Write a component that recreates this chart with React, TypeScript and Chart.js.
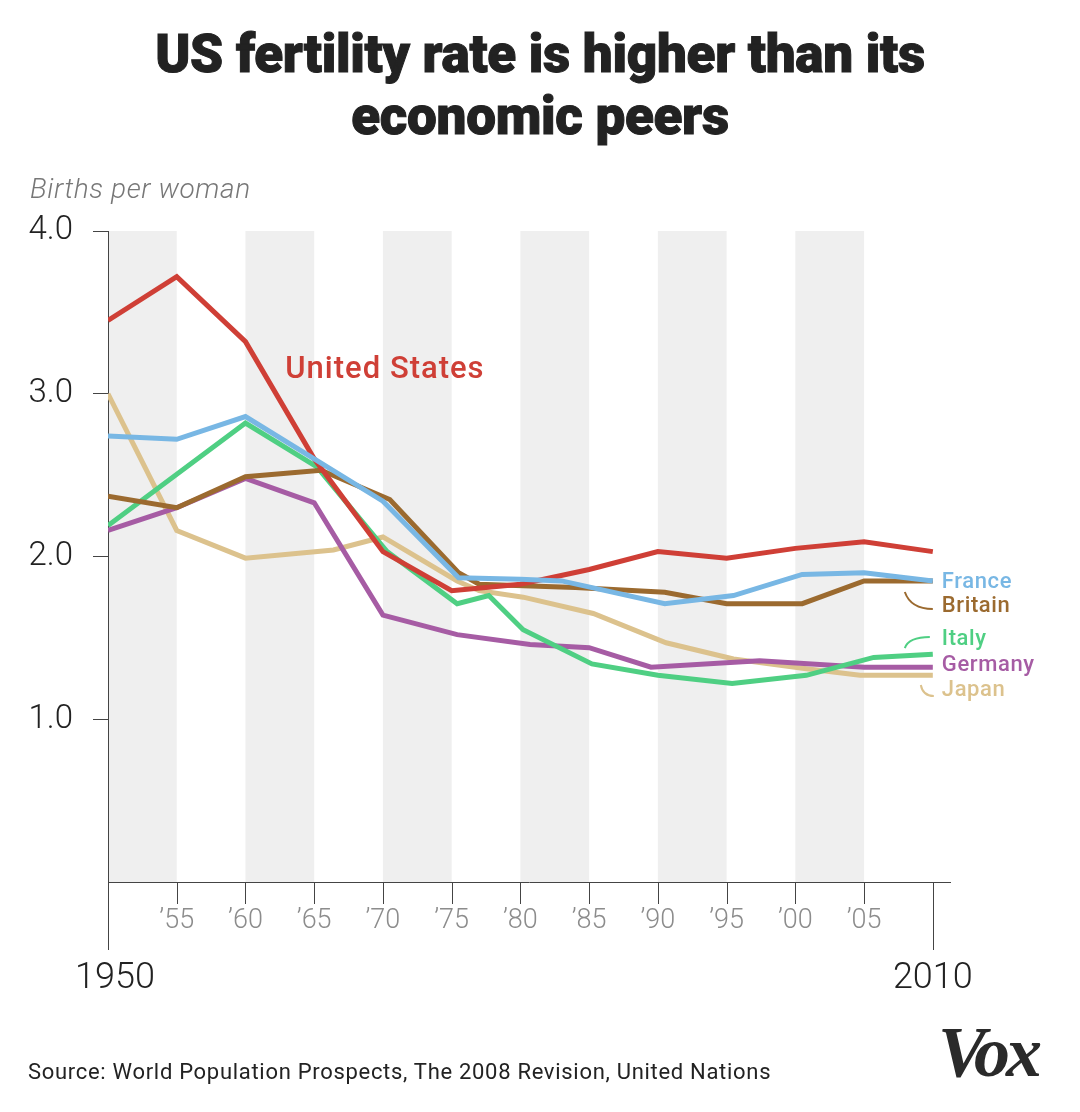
import { useEffect, useRef } from "react";
import { Chart, registerables } from "chart.js";

Chart.register(...registerables);

// ---------- data ----------
const TITLE_LINES = ["US fertility rate is higher than its", "economic peers"];
const Y_TITLE = "Births per woman";
const SOURCE = "Source: World Population Prospects, The 2008 Revision, United Nations";

const X_MIN = 1950;
const X_END = 2010;
const BAND_STARTS = [1950, 1960, 1970, 1980, 1990, 2000];
const BAND_WIDTH = 5;
const MINOR_TICKS = [1955, 1960, 1965, 1970, 1975, 1980, 1985, 1990, 1995, 2000, 2005];
const MINOR_LABELS = ["’55", "’60", "’65", "’70", "’75", "’80", "’85", "’90", "’95", "’00", "’05"];
const MAJOR_TICKS = [1950, 2010];
const MAJOR_LABELS = ["1950", "2010"];
const Y_TICKS = [1, 2, 3, 4];

const usYears = [1950, 1955, 1960, 1965, 1970, 1975, 1980, 1985, 1990, 1995, 2000, 2005, 2010];
const usValues = [3.45, 3.72, 3.32, 2.6, 2.03, 1.79, 1.83, 1.92, 2.03, 1.99, 2.05, 2.09, 2.03];

const franceYears = [1950, 1955, 1960, 1965, 1970, 1975.5, 1980, 1983, 1990.5, 1995.5, 2000.5, 2005, 2010];
const franceValues = [2.74, 2.72, 2.86, 2.6, 2.34, 1.87, 1.86, 1.85, 1.71, 1.76, 1.89, 1.9, 1.85];

const britainYears = [1950, 1955, 1960, 1965.5, 1970.5, 1975.5, 1977, 1984, 1990.5, 1995, 2000.5, 2005, 2010];
const britainValues = [2.37, 2.3, 2.49, 2.53, 2.35, 1.9, 1.83, 1.81, 1.78, 1.71, 1.71, 1.85, 1.85];

const italyYears = [1950, 1960, 1965.2, 1970.3, 1975.4, 1977.7, 1980.2, 1985.2, 1990, 1995.4, 2000.8, 2005.7, 2010];
const italyValues = [2.19, 2.82, 2.55, 2.03, 1.71, 1.76, 1.55, 1.34, 1.27, 1.22, 1.27, 1.38, 1.4];

const germanyYears = [1950, 1955, 1960, 1965, 1970, 1975.4, 1980.7, 1985, 1989.5, 1997.4, 2005, 2010];
const germanyValues = [2.16, 2.3, 2.48, 2.33, 1.64, 1.52, 1.46, 1.44, 1.32, 1.36, 1.32, 1.32];

const japanYears = [1950, 1955, 1960, 1966.4, 1970, 1975.4, 1977, 1980.2, 1985.3, 1990.6, 1995.5, 2000.8, 2004.7, 2010];
const japanValues = [3.0, 2.16, 1.99, 2.04, 2.12, 1.85, 1.79, 1.75, 1.65, 1.47, 1.37, 1.31, 1.27, 1.27];

const SERIES_NAMES = ["France", "United States", "Britain", "Italy", "Germany", "Japan"];
const SERIES_YEARS = [franceYears, usYears, britainYears, italyYears, germanyYears, japanYears];
const SERIES_VALUES = [franceValues, usValues, britainValues, italyValues, germanyValues, japanValues];
const SERIES_COLORS = ["#78b7e4", "#cf3f36", "#9b6a2f", "#4fcf83", "#a65ca4", "#dcc28d"];

// end labels (value at which each label is centred)
const END_LABELS = ["France", "Britain", "Italy", "Germany", "Japan"];
const END_LABEL_VALUES = [1.846, 1.696, 1.499, 1.336, 1.183];
const US_LABEL = "United States";
const US_LABEL_AT = { year: 1962.9, value: 3.146 };

const colorOf = (name: string) => SERIES_COLORS[SERIES_NAMES.indexOf(name)];

const overlayPlugin = {
  id: "overlay",
  beforeDraw(chart: any) {
    const { ctx, chartArea, scales } = chart;
    const x = scales.x;
    ctx.save();
    ctx.fillStyle = "#efefef";
    BAND_STARTS.forEach((s) => {
      const x0 = x.getPixelForValue(s);
      const x1 = x.getPixelForValue(s + BAND_WIDTH);
      ctx.fillRect(x0, chartArea.top, x1 - x0, chartArea.bottom - chartArea.top);
    });
    ctx.restore();
  },
  afterDraw(chart: any) {
    const { ctx, chartArea, scales } = chart;
    const x = scales.x;
    const y = scales.y;
    const bottom = chartArea.bottom;
    ctx.save();
    // x ticks
    ctx.strokeStyle = "#444";
    ctx.lineWidth = 1;
    MINOR_TICKS.forEach((t) => {
      const px = Math.round(x.getPixelForValue(t)) + 0.5;
      ctx.beginPath();
      ctx.moveTo(px, bottom);
      ctx.lineTo(px, bottom + 22);
      ctx.stroke();
    });
    MAJOR_TICKS.forEach((t) => {
      const px = Math.round(x.getPixelForValue(t)) + 0.5;
      ctx.beginPath();
      ctx.moveTo(px, bottom);
      ctx.lineTo(px, bottom + 68);
      ctx.stroke();
    });
    ctx.textAlign = "center";
    ctx.textBaseline = "middle";
    ctx.fillStyle = "#8c8c8c";
    ctx.font = "300 27px Roboto";
    MINOR_TICKS.forEach((t, i) => {
      ctx.fillText(MINOR_LABELS[i], x.getPixelForValue(t), bottom + 39);
    });
    ctx.fillStyle = "#222";
    ctx.font = "300 36px Roboto";
    MAJOR_TICKS.forEach((t, i) => {
      ctx.fillText(MAJOR_LABELS[i], x.getPixelForValue(t) + (i === 0 ? 7 : 0), bottom + 97);
    });

    // end labels
    const lx = x.getPixelForValue(X_END) + 9;
    ctx.textAlign = "left";
    ctx.font = "500 22px Roboto";
    (ctx as any).letterSpacing = "0.6px";
    END_LABELS.forEach((name, i) => {
      ctx.fillStyle = colorOf(name);
      ctx.fillText(name, lx, y.getPixelForValue(END_LABEL_VALUES[i]) + 1);
    });
    (ctx as any).letterSpacing = "0px";

    // leader curves
    ctx.lineWidth = 2;
    const curve = (name: string, pts: number[]) => {
      const cy = y.getPixelForValue(END_LABEL_VALUES[END_LABELS.indexOf(name)]);
      ctx.strokeStyle = colorOf(name);
      ctx.beginPath();
      ctx.moveTo(lx + pts[0], cy + pts[1]);
      ctx.quadraticCurveTo(lx + pts[2], cy + pts[3], lx + pts[4], cy + pts[5]);
      ctx.stroke();
    };
    curve("Britain", [-37, -14, -31, 3, -9, 3]);
    curve("Italy", [-37, 10, -33, -1, -12, -1]);
    curve("Japan", [-21, -4.5, -19, 6.5, -8, 6.5]);

    // United States label
    ctx.fillStyle = colorOf("United States");
    ctx.font = "500 31px Roboto";
    (ctx as any).letterSpacing = "1px";
    ctx.textAlign = "left";
    ctx.fillText(US_LABEL, x.getPixelForValue(US_LABEL_AT.year), y.getPixelForValue(US_LABEL_AT.value));
    (ctx as any).letterSpacing = "0px";
    ctx.restore();
  },
};

export default function App() {
  const ref = useRef<HTMLCanvasElement>(null);
  useEffect(() => {
    document.body.style.margin = "0";
    const datasets = SERIES_NAMES.map((name, i) => ({
      label: name,
      data: SERIES_YEARS[i].map((yr, j) => ({ x: yr, y: SERIES_VALUES[i][j] })),
      borderColor: SERIES_COLORS[i],
      backgroundColor: SERIES_COLORS[i],
      borderWidth: 5,
      pointRadius: 0,
      tension: 0,
      fill: false,
    }));
    const chart = new Chart(ref.current as HTMLCanvasElement, {
      type: "line",
      data: { datasets },
      plugins: [overlayPlugin],
      options: {
        animation: false,
        responsive: false,
        devicePixelRatio: window.devicePixelRatio || 1,
        layout: { padding: { left: 0, right: 130, top: 231, bottom: 110 } },
        plugins: { legend: { display: false }, tooltip: { enabled: false }, title: { display: false } },
        scales: {
          x: {
            type: "linear",
            min: X_MIN,
            max: 2011.25,
            grid: { display: false },
            ticks: { display: false },
            border: { display: true, color: "#444", width: 1 },
            afterFit: (s: any) => {
              s.height = 120;
            },
          },
          y: {
            type: "linear",
            min: 0,
            max: 4,
            afterBuildTicks: (s: any) => {
              s.ticks = [0, ...Y_TICKS].map((v) => ({ value: v }));
            },
            ticks: {
              callback: (v: any) => (v === 0 ? "" : Number(v).toFixed(1)),
              color: "#222",
              font: { family: "Roboto", size: 33, weight: "300" },
              padding: 20,
            },
            grid: {
              drawOnChartArea: false,
              drawTicks: true,
              tickLength: 15,
              color: (c: any) => (c.tick && c.tick.value === 0 ? "rgba(0,0,0,0)" : "#444"),
            },
            border: { display: true, color: "#444", width: 1 },
            afterFit: (s: any) => {
              s.width = 108;
            },
          },
        },
      } as any,
    });
    return () => chart.destroy();
  }, []);

  return (
    <div style={{ position: "relative", width: 1080, height: 1112, overflow: "hidden", background: "#fff" }}>
      <canvas ref={ref} width={1080} height={1112} style={{ position: "absolute", left: 0, top: 0, width: 1080, height: 1112 }} />
      <div
        style={{
          position: "absolute",
          top: 23,
          left: 0,
          width: 1080,
          textAlign: "center",
          fontFamily: "Roboto",
          fontWeight: 900,
          fontSize: 53,
          lineHeight: "62px",
          color: "#222",
          letterSpacing: "-0.3px",
          WebkitTextStroke: "1px #222",
        }}
      >
        {TITLE_LINES.map((l) => (
          <div key={l}>{l}</div>
        ))}
      </div>
      <div
        style={{
          position: "absolute",
          top: 175,
          left: 30,
          fontFamily: "Roboto",
          fontStyle: "italic",
          fontWeight: 300,
          fontSize: 28,
          lineHeight: "28px",
          color: "#777",
          letterSpacing: "0.6px",
          whiteSpace: "nowrap",
        }}
      >
        {Y_TITLE}
      </div>
      <div
        style={{
          position: "absolute",
          top: 1061,
          left: 28,
          fontFamily: "Roboto",
          fontWeight: 400,
          fontSize: 22,
          lineHeight: "22px",
          color: "#222",
          letterSpacing: "0.7px",
          whiteSpace: "nowrap",
        }}
      >
        {SOURCE}
      </div>
      <div
        style={{
          position: "absolute",
          top: 1016,
          left: 938,
          fontFamily: "Liberation Serif",
          fontWeight: 700,
          fontStyle: "italic",
          fontSize: 72,
          lineHeight: "72px",
          color: "#2a2a2a",
          letterSpacing: "-4px",
          whiteSpace: "nowrap",
        }}
      >
        Vox
      </div>
    </div>
  );
}
